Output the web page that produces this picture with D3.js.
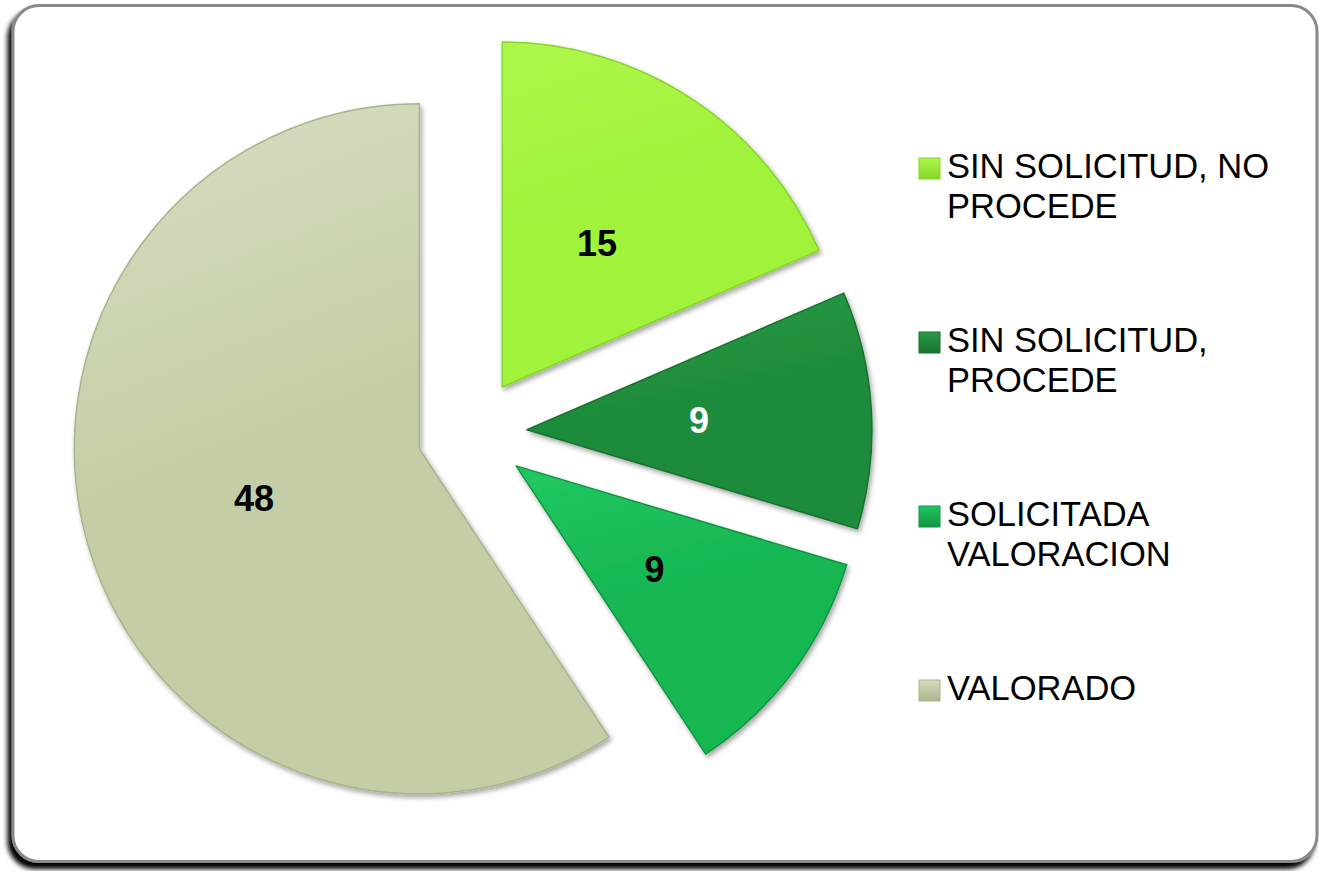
<!DOCTYPE html>
<html>
<head>
<meta charset="utf-8">
<script src="https://cdn.jsdelivr.net/npm/d3@7"></script>
<style>
  html, body { margin: 0; padding: 0; background: #ffffff; }
  svg { display: block; }
  text { font-family: "Liberation Sans", Arial, sans-serif; }
</style>
</head>
<body>
<svg id="chart" width="1319" height="871"></svg>
<script>
// ---- data ----
const categories = ["SIN SOLICITUD, NO PROCEDE", "SIN SOLICITUD, PROCEDE", "SOLICITADA VALORACION", "VALORADO"];
const values = [15, 9, 9, 48];
const legendLines = [["SIN SOLICITUD, NO", "PROCEDE"], ["SIN SOLICITUD,", "PROCEDE"], ["SOLICITADA", "VALORACION"], ["VALORADO"]];
const colorsLight = ["#aef74a", "#2a9c48", "#22c761", "#d6dfc2"];
const colorsMid   = ["#a0f23a", "#1e8b3a", "#16b651", "#c3cea6"];
const colorsDark  = ["#86d62a", "#17722f", "#109544", "#a9b58a"];
const labelColors = ["#000000", "#ffffff", "#000000", "#000000"];

const svg = d3.select("#chart");

const defs = svg.append("defs");
// frame shadow
const fs = defs.append("filter").attr("id", "frameShadow").attr("x", "-5%").attr("y", "-5%").attr("width", "110%").attr("height", "112%");
fs.append("feDropShadow").attr("dx", -4).attr("dy", 6).attr("stdDeviation", 2.5).attr("flood-color", "#000").attr("flood-opacity", 1);
// slice shadow
const ss = defs.append("filter").attr("id", "sliceShadow").attr("x", "-20%").attr("y", "-20%").attr("width", "140%").attr("height", "140%");
ss.append("feDropShadow").attr("dx", 2).attr("dy", 3).attr("stdDeviation", 2.5).attr("flood-color", "#000").attr("flood-opacity", 0.35);

values.forEach((v, i) => {
  const g = defs.append("linearGradient").attr("id", "grad" + i)
    .attr("x1", "0").attr("y1", "0").attr("x2", "0.3").attr("y2", "1");
  g.append("stop").attr("offset", "0%").attr("stop-color", colorsLight[i]);
  g.append("stop").attr("offset", "55%").attr("stop-color", colorsMid[i]);
  g.append("stop").attr("offset", "100%").attr("stop-color", colorsMid[i]);
  const lg = defs.append("linearGradient").attr("id", "lgrad" + i)
    .attr("x1", "0").attr("y1", "0").attr("x2", "0").attr("y2", "1");
  lg.append("stop").attr("offset", "0%").attr("stop-color", colorsLight[i]);
  lg.append("stop").attr("offset", "100%").attr("stop-color", colorsDark[i]);
});

// frame
svg.append("rect")
  .attr("x", 13).attr("y", 5.5).attr("width", 1304).attr("height", 856)
  .attr("rx", 26).attr("ry", 26)
  .attr("fill", "#ffffff").attr("stroke", "#8a8a8a").attr("stroke-width", 3)
  .attr("filter", "url(#frameShadow)");

// pie
const cx = 472, cy = 433, R = 345, explode = 55;
const pie = d3.pie().sort(null).value(d => d).startAngle(0).endAngle(2 * Math.PI);
const arcs = pie(values);
const arc = d3.arc().innerRadius(0).outerRadius(R);
const labelArc = d3.arc().innerRadius(R * 0.5).outerRadius(R * 0.5);

const pieG = svg.append("g").attr("transform", `translate(${cx},${cy})`);
const sliceG = pieG.selectAll("g.slice").data(arcs).enter().append("g")
  .attr("class", "slice")
  .attr("transform", d => {
    const m = (d.startAngle + d.endAngle) / 2;
    return `translate(${explode * Math.sin(m)},${-explode * Math.cos(m)})`;
  });

sliceG.append("path")
  .attr("d", arc)
  .attr("fill", (d, i) => `url(#grad${i})`)
  .attr("stroke", (d, i) => colorsDark[i])
  .attr("stroke-width", 1.5)
  .attr("stroke-linejoin", "round")
  .attr("filter", "url(#sliceShadow)");

sliceG.append("text")
  .attr("transform", d => `translate(${labelArc.centroid(d)})`)
  .attr("text-anchor", "middle")
  .attr("dy", "0.36em")
  .attr("font-size", 36)
  .attr("font-weight", "bold")
  .attr("fill", (d, i) => labelColors[i])
  .text(d => d.value);

// legend
const legX = 919, legY0 = 178, legStep = 174, lineH = 40, sw = 21;
const legG = svg.append("g");
categories.forEach((c, i) => {
  const y = legY0 + i * legStep;
  legG.append("rect")
    .attr("x", legX).attr("y", y - 20).attr("width", sw).attr("height", sw)
    .attr("fill", `url(#lgrad${i})`)
    .attr("stroke", colorsDark[i]).attr("stroke-width", 1);
  const t = legG.append("text")
    .attr("x", legX + 28).attr("y", y)
    .attr("font-size", 34.5).attr("fill", "#000");
  legendLines[i].forEach((ln, j) => {
    t.append("tspan").attr("x", legX + 28).attr("y", y + j * lineH).text(ln);
  });
});
</script>
</body>
</html>
